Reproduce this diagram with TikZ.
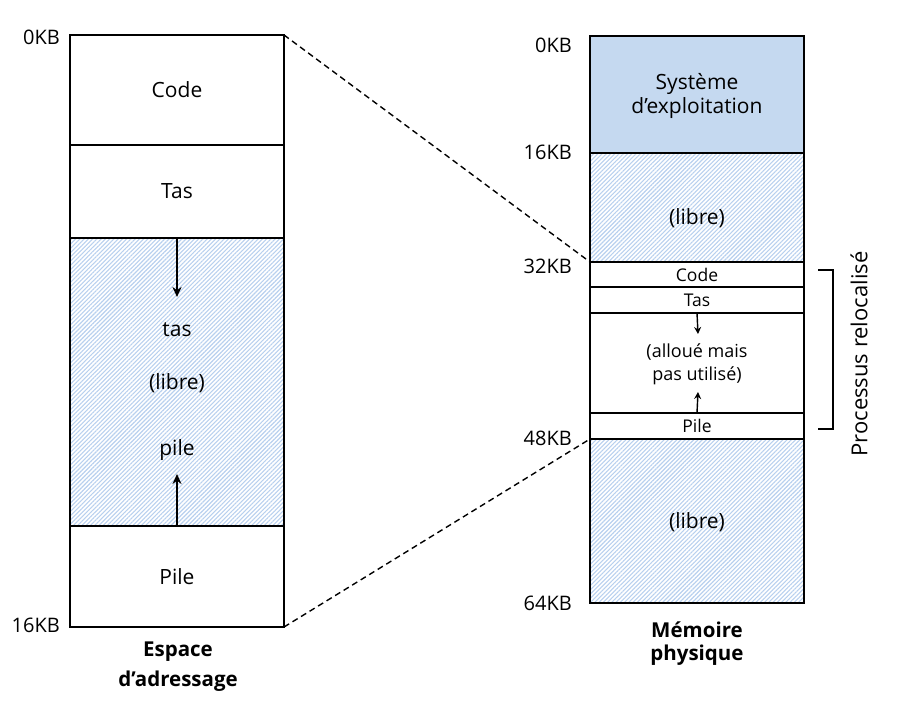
\documentclass[tikz,border=0pt]{standalone}
\usepackage{fontspec}
\setmainfont{Open Sans}
\usetikzlibrary{patterns.meta,arrows.meta}
\definecolor{hatchc}{RGB}{184,208,238}
\definecolor{osfill}{RGB}{197,217,240}
\tikzset{
  seg/.style={draw=black,line width=2.5pt,minimum width=214pt,inner sep=0pt,outer sep=0pt,anchor=north west,align=center,font=\fontsize{21}{28}\selectfont},
  smallseg/.style={seg,font=\fontsize{17.5}{20}\selectfont},
  hatched/.style={pattern={Lines[angle=45,distance=3pt,line width=1.1pt]},pattern color=hatchc},
  kb/.style={anchor=east,inner sep=0pt,font=\fontsize{20}{22}\selectfont},
  lbl/.style={inner sep=0pt,font=\fontsize{21}{24}\selectfont},
  captext/.style={inner sep=0pt,align=center,font=\bfseries\fontsize{20.5}{30}\selectfont},
  growarrow/.style={line width=1.8pt,-{Stealth[length=10pt,width=9pt]}},
  growarrowsmall/.style={line width=1.4pt,-{Stealth[length=7pt,width=7pt]}},
  link/.style={line width=1.4pt,dash pattern=on 6pt off 4pt}
}
\begin{document}
\begin{tikzpicture}[x=1pt,y=-1pt]
\useasboundingbox (0,0) rectangle (898,705);
% left column
\node[seg,minimum height=110pt] (lcode) at (70,35) {Code};
\node[seg,minimum height=93pt] (ltas) at (70,145) {Tas};
\node[seg,hatched,minimum height=288pt] (lfree) at (70,238) {};
\node[seg,minimum height=101pt] (lpile) at (70,526) {Pile};
\node[lbl] (ltastxt) at (177,330) {tas};
\node[lbl] (llibre) at (177,383) {(libre)};
\node[lbl] (lpiletxt) at (177,450) {pile};
\coordinate (ldown) at (177,297);
\coordinate (lup) at (177,474);
\draw[growarrow] (lfree.north) -- (ldown);
\draw[growarrow] (lfree.south) -- (lup);
\node[kb] (l0) at (60,37) {0KB};
\node[kb] (l16) at (60,625) {16KB};
\node[captext] (lcap) at (178,667) {Espace\\d’adressage};
% right column
\node[seg,fill=osfill,minimum height=117pt] (ros) at (590,36) {};
\node[inner sep=0pt,align=center,font=\fontsize{21}{24}\selectfont] (rost) at (697,96) {Système\\d’exploitation};
\node[seg,hatched,minimum height=109pt] (rfree1) at (590,153) {};
\node[lbl] (rfree1t) at (697,218) {(libre)};
\node[smallseg,minimum height=25pt] (rcode) at (590,262) {Code};
\node[smallseg,minimum height=26pt] (rtas) at (590,287) {Tas};
\node[seg,minimum height=100pt] (ralloc) at (590,313) {};
\node[inner sep=0pt,align=center,font=\fontsize{18}{23}\selectfont] (ralloct) at (697,364) {(alloué mais\\pas utilisé)};
\node[smallseg,minimum height=26pt] (rpile) at (590,413) {Pile};
\node[seg,hatched,minimum height=164pt] (rfree2) at (590,439) {};
\node[lbl] (rfree2t) at (697,522) {(libre)};
\coordinate (rdown) at (698,334);
\coordinate (rup) at (698,392);
\draw[growarrowsmall] (ralloc.north) -- (rdown);
\draw[growarrowsmall] (ralloc.south) -- (rup);
\node[kb] (r0) at (572,45) {0KB};
\node[kb] (r16) at (572,152) {16KB};
\node[kb] (r32) at (572,266) {32KB};
\node[kb] (r48) at (572,438) {48KB};
\node[kb] (r64) at (572,603) {64KB};
\node[captext,font=\bfseries\fontsize{20.5}{23}\selectfont] (rcap) at (697,644) {Mémoire\\physique};
% bracket
\coordinate (bt) at (818,270);
\coordinate (bb) at (818,429);
\draw[line width=2pt] (bt) -- ++(15,0) |- (bb);
\node[rotate=90,inner sep=0pt,font=\fontsize{22}{24}\selectfont] (proc) at (859,354) {Processus relocalisé};
% dashed links
\draw[link] (lcode.north east) -- (rcode.north west);
\draw[link] (lpile.south east) -- (rpile.south west);
\end{tikzpicture}
\end{document}
